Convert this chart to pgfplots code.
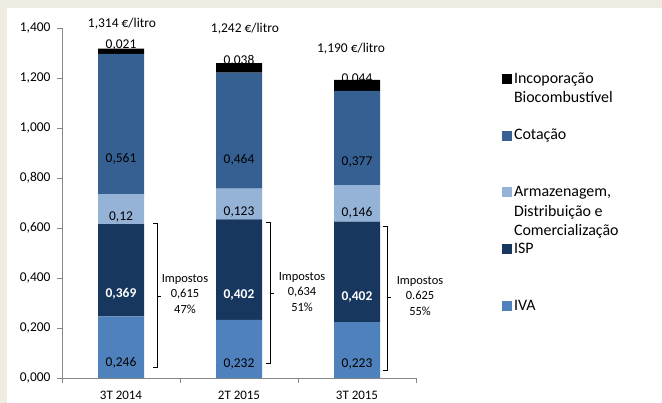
\documentclass[border=0pt]{standalone}
\usepackage{pgfplots}
\pgfplotsset{compat=1.18}
\usepackage{fontspec}
\setmainfont{Carlito}
\definecolor{bgbeige}{HTML}{EEECE1}
\definecolor{ivaC}{HTML}{4F81BD}
\definecolor{ispC}{HTML}{17375E}
\definecolor{armC}{HTML}{95B3D7}
\definecolor{cotC}{HTML}{366092}
\definecolor{axC}{HTML}{868686}
\newcommand{\legA}{\smash{\begin{tabular}[t]{@{}l@{}}Incoporação\\Biocombustível\end{tabular}}}
\newcommand{\legB}{\smash{Cotação}}
\newcommand{\legC}{\smash{\begin{tabular}[t]{@{}l@{}}Armazenagem,\\Distribuição e\\Comercialização\end{tabular}}}
\newcommand{\legD}{\smash{ISP}}
\newcommand{\legE}{\smash{IVA}}
\newcommand{\fs}{\fontsize{13.5}{16}\selectfont}
\newcommand{\fimp}{\fontsize{12.5}{15.5}\selectfont}
\begin{document}
\begin{tikzpicture}
\useasboundingbox (0,0) rectangle (662bp,403bp);
\fill[bgbeige] (0,0) rectangle (662bp,403bp);
\fill[white] (7bp,0) rectangle (662bp,395bp);
\begin{axis}[
  at={(62bp,25bp)}, anchor=south west,
  scale only axis, width=354bp, height=350bp,
  ybar stacked, bar width=46bp,
  xmin=-0.5, xmax=2.5, ymin=0, ymax=1.4,
  clip=false,
  axis x line*=bottom, axis y line*=left,
  axis line style={axC},
  tick style={axC},
  tick align=outside,
  major tick length=5bp, minor tick length=5bp,
  xtick={0,1,2}, xticklabels={3T 2014,2T 2015,3T 2015},
  minor xtick={-0.5,0.5,1.5,2.5},
  major x tick style={draw=none},
  ytick={0,0.2,0.4,0.6,0.8,1.0,1.2,1.4},
  tick label style={font=\fs},
  xticklabel style={font=\fontsize{13}{15}\selectfont, yshift=-5bp},
  yticklabel style={xshift=-3bp, /pgf/number format/.cd, fixed, fixed zerofill, precision=3, use comma},
  /pgf/number format/assume math mode=true,
  visualization depends on={rawy \as \rawy},
  nodes near coords={\pgfmathprintnumber[fixed,precision=3,use comma]{\rawy}},
  every node near coord/.append style={font=\fs, text=black, anchor=center, yshift={-62.5*\rawy bp}},
  legend style={at={(axis cs:3.229,1.216)}, anchor=north west, draw=none, fill=none,
    inner sep=0pt, outer sep=0pt, row sep=46bp, column sep=2bp,
    font=\fontsize{16}{19.5}\selectfont, nodes={inner sep=0pt}},
  legend cell align=left,
  reverse legend,
  legend image code/.code={\fill[#1] (0bp,0bp) rectangle (10bp,10bp);},
]
\addplot[fill=ivaC, draw=none] coordinates {(0,0.246) (1,0.232) (2,0.223)};
\addlegendentry{\legE}
\addplot[fill=ispC, draw=none, every node near coord/.append style={text=white, font=\fs\bfseries}] coordinates {(0,0.369) (1,0.402) (2,0.402)};
\addlegendentry{\legD}
\addplot[fill=armC, draw=none] coordinates {(0,0.12) (1,0.123) (2,0.146)};
\addlegendentry{\legC}
\addplot[fill=cotC, draw=none] coordinates {(0,0.561) (1,0.464) (2,0.377)};
\addlegendentry{\legB}
\addplot[fill=black, draw=none, every node near coord/.append style={anchor=base, yshift={62.5*\rawy bp}, yshift=3bp}] coordinates {(0,0.021) (1,0.038) (2,0.044)};
\addlegendentry{\legA}

\node[anchor=base, font=\fs] at (axis cs:0.008,1.40) {1,314 €/litro};
\node[anchor=base, font=\fs] at (axis cs:1.05,1.38) {1,242 €/litro};
\node[anchor=base, font=\fs] at (axis cs:1.95,1.30) {1,190 €/litro};

\node[align=center, font=\fimp] at (axis cs:0.542,0.336) {Impostos\\0,615\\47\%};
\node[align=center, font=\fimp] at (axis cs:1.534,0.344) {Impostos\\0,634\\51\%};
\node[align=center, font=\fimp] at (axis cs:2.534,0.328) {Impostos\\0.625\\55\%};

\draw[black, line width=0.8bp] (axis cs:0.271,0.62) -- (axis cs:0.305,0.62) -- (axis cs:0.305,0.044) -- (axis cs:0.271,0.044);
\draw[black, line width=0.8bp] (axis cs:0.305,0.328) -- (axis cs:0.339,0.328);
\draw[black, line width=0.8bp] (axis cs:1.229,0.624) -- (axis cs:1.263,0.624) -- (axis cs:1.263,0.06) -- (axis cs:1.229,0.06);
\draw[black, line width=0.8bp] (axis cs:1.263,0.34) -- (axis cs:1.297,0.34);
\draw[black, line width=0.8bp] (axis cs:2.220,0.608) -- (axis cs:2.254,0.608) -- (axis cs:2.254,0.032) -- (axis cs:2.220,0.032);
\draw[black, line width=0.8bp] (axis cs:2.254,0.324) -- (axis cs:2.288,0.324);
\end{axis}
\end{tikzpicture}
\end{document}
